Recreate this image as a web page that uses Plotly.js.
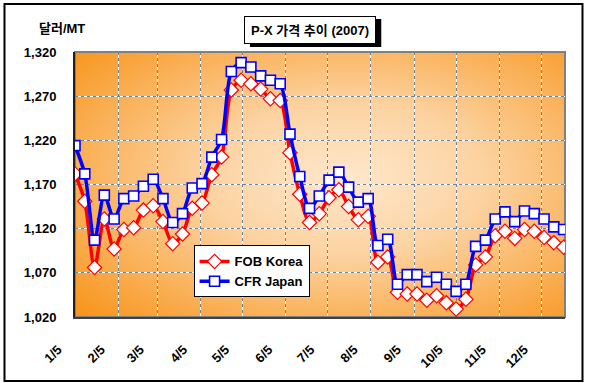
<!DOCTYPE html>
<html>
<head>
<meta charset="utf-8">
<script src="https://cdn.plot.ly/plotly-3.0.1.min.js"></script>
<style>
html,body{margin:0;padding:0;background:#fff;}
#chart{width:589px;height:383px;}
</style>
</head>
<body>
<div id="chart"></div>
<script>
// ---- data ----
const weekDates = ['2007-01-05','2007-01-12','2007-01-19','2007-01-26','2007-02-02','2007-02-09','2007-02-16','2007-02-23',
  '2007-03-02','2007-03-09','2007-03-16','2007-03-23','2007-03-30','2007-04-06','2007-04-13','2007-04-20','2007-04-27',
  '2007-05-04','2007-05-11','2007-05-18','2007-05-25','2007-06-01','2007-06-08','2007-06-15','2007-06-22','2007-06-29',
  '2007-07-06','2007-07-13','2007-07-20','2007-07-27','2007-08-03','2007-08-10','2007-08-17','2007-08-24','2007-08-31',
  '2007-09-07','2007-09-14','2007-09-21','2007-09-28','2007-10-05','2007-10-12','2007-10-19','2007-10-26',
  '2007-11-02','2007-11-09','2007-11-16','2007-11-23','2007-11-30','2007-12-07','2007-12-14','2007-12-21'];
const fobKorea = [1182,1151,1076,1131,1097,1119,1121,1141,1146,1128,
  1103,1114,1143,1149,1181,1201,1277,1288,1284,1278,
  1267,1265,1206,1159,1127,1137,1155,1164,1145,1130,
  1134,1082,1088,1048,1046,1046,1039,1044,1036,1029,
  1040,1079,1088,1112,1117,1109,1119,1117,1110,1104,1099];
const cfrJapan = [1214,1182,1107,1158,1131,1154,1157,1168,1176,1154,
  1127,1137,1166,1171,1201,1221,1298,1308,1303,1293,
  1288,1284,1227,1179,1143,1157,1175,1184,1167,1150,
  1154,1101,1108,1057,1068,1068,1060,1065,1057,1049,
  1057,1100,1107,1131,1139,1128,1140,1137,1131,1122,1119];
const seriesNames = ['FOB Korea','CFR Japan'];
const monthTickDates = ['2007-01-05','2007-02-05','2007-03-05','2007-04-05','2007-05-05','2007-06-05',
  '2007-07-05','2007-08-05','2007-09-05','2007-10-05','2007-11-05','2007-12-05'];
const monthTickLabels = ['1/5','2/5','3/5','4/5','5/5','6/5','7/5','8/5','9/5','10/5','11/5','12/5'];
const yTickVals = [1020,1070,1120,1170,1220,1270,1320];
const chartTitle = 'P-X 가격 추이 (2007)';
const yUnit = '달러/MT';

// ---- styling ----
const FONT = 'Liberation Sans, Arial, Noto Sans CJK KR, sans-serif';
const xRange = ['2007-01-05','2007-12-22'];
const yRange = [1020,1320];

const bgSvg = "<svg xmlns='http://www.w3.org/2000/svg' width='490' height='265' viewBox='0 0 490 265' preserveAspectRatio='none'>" +
  "<defs><radialGradient id='g' cx='0.55' cy='0.48' r='0.74'>" +
  "<stop offset='0' stop-color='#FEE8CC'/><stop offset='0.38' stop-color='#FCD3A2'/><stop offset='1' stop-color='#F8951C'/></radialGradient></defs>" +
  "<rect x='0' y='0' width='490' height='265' fill='url(#g)'/></svg>";
const bgUri = 'data:image/svg+xml;base64,' + btoa(bgSvg);

const traces = [
  {x: weekDates, y: fobKorea, name: seriesNames[0], type: 'scatter', mode: 'lines+markers',
   line: {color: '#FF0000', width: 3.5, shape: 'spline', smoothing: 0.8},
   marker: {symbol: 'diamond', size: 11, color: '#FFFFFF', line: {color: '#FF0000', width: 1.2}}},
  {x: weekDates, y: cfrJapan, name: seriesNames[1], type: 'scatter', mode: 'lines+markers',
   line: {color: '#0000FF', width: 3.5, shape: 'spline', smoothing: 0.8},
   marker: {symbol: 'square', size: 10, color: '#FFFFFF', line: {color: '#0000FF', width: 1.6}}},
  {x: [], y: [], xaxis: 'x2', yaxis: 'y2', showlegend: false, hoverinfo: 'skip', type: 'scatter'}
];

const tickFont = {family: FONT, size: 13, color: '#000', weight: 'bold'};

const layout = {
  width: 589, height: 383,
  margin: {l: 75, r: 24, t: 52, b: 66, pad: 0},
  paper_bgcolor: '#FFFFFF',
  plot_bgcolor: '#F8951C',
  showlegend: true,
  xaxis: {type: 'date', range: xRange, tickvals: monthTickDates, ticktext: monthTickLabels,
    tickangle: -45, tickfont: tickFont, ticks: '', ticklabelstandoff: 18, ticklabelshift: -17,
    showgrid: true, gridcolor: '#FFFFFF', gridwidth: 1,
    showline: true, linecolor: '#404040', linewidth: 2, zeroline: false, fixedrange: true},
  yaxis: {range: yRange, tickvals: yTickVals, tickformat: ',', tickfont: tickFont, ticks: '',
    ticklabelstandoff: 14,
    showgrid: true, gridcolor: '#FFFFFF', gridwidth: 1,
    showline: true, linecolor: '#202020', linewidth: 2, zeroline: false, fixedrange: true},
  xaxis2: {type: 'date', range: xRange, tickvals: monthTickDates, overlaying: 'x', anchor: 'y2',
    showticklabels: false, ticks: '', showgrid: true, gridcolor: '#808080', gridwidth: 1, griddash: '3px,3px',
    showline: false, zeroline: false, fixedrange: true},
  yaxis2: {range: yRange, tickvals: yTickVals, overlaying: 'y', anchor: 'x2',
    showticklabels: false, ticks: '', showgrid: true, gridcolor: '#808080', gridwidth: 1, griddash: '3px,3px',
    showline: false, zeroline: false, fixedrange: true},
  legend: {x: 0.242, y: 0.27, xanchor: 'left', yanchor: 'top',
    bgcolor: '#FFFFFF', bordercolor: '#000000', borderwidth: 1,
    font: {family: FONT, size: 13, color: '#000', weight: 'bold'},
    tracegroupgap: 0, itemwidth: 30, entrywidth: 125, entrywidthmode: 'pixels'},
  images: [{source: bgUri, xref: 'paper', yref: 'paper', x: 0, y: 1, sizex: 1, sizey: 1,
    sizing: 'stretch', xanchor: 'left', yanchor: 'top', layer: 'below'}],
  shapes: [
    {type: 'rect', xref: 'paper', yref: 'paper', x0: 0, x1: 1, y0: 0, y1: 1,
     line: {color: '#808080', width: 2}, fillcolor: 'rgba(0,0,0,0)', layer: 'below'},
    {type: 'rect', xref: 'paper', yref: 'paper', x0: -0.1439, x1: 1.0357, y0: -0.2415, y1: 1.1811,
     line: {color: '#000000', width: 2}, fillcolor: 'rgba(0,0,0,0)'},
    {type: 'rect', xref: 'paper', yref: 'paper', x0: 0.357, x1: 0.625, y0: 1.0189, y1: 1.1245,
     line: {width: 0}, fillcolor: '#000000'}
  ],
  annotations: [
    {text: chartTitle, xref: 'paper', yref: 'paper', x: 0.4806, y: 1.083, xanchor: 'center', yanchor: 'middle',
     showarrow: false, bgcolor: '#FFFFFF', bordercolor: '#000000', borderwidth: 1, borderpad: 3,
     width: 124, height: 20,
     font: {family: FONT, size: 13, color: '#000', weight: 'bold'}},
    {text: yUnit, xref: 'paper', yref: 'paper', x: -0.026, y: 1.09, xanchor: 'center', yanchor: 'middle',
     showarrow: false, font: {family: FONT, size: 13, color: '#000', weight: 'bold'}}
  ]
};

Plotly.newPlot('chart', traces, layout, {displayModeBar: false, staticPlot: true});
</script>
</body>
</html>
